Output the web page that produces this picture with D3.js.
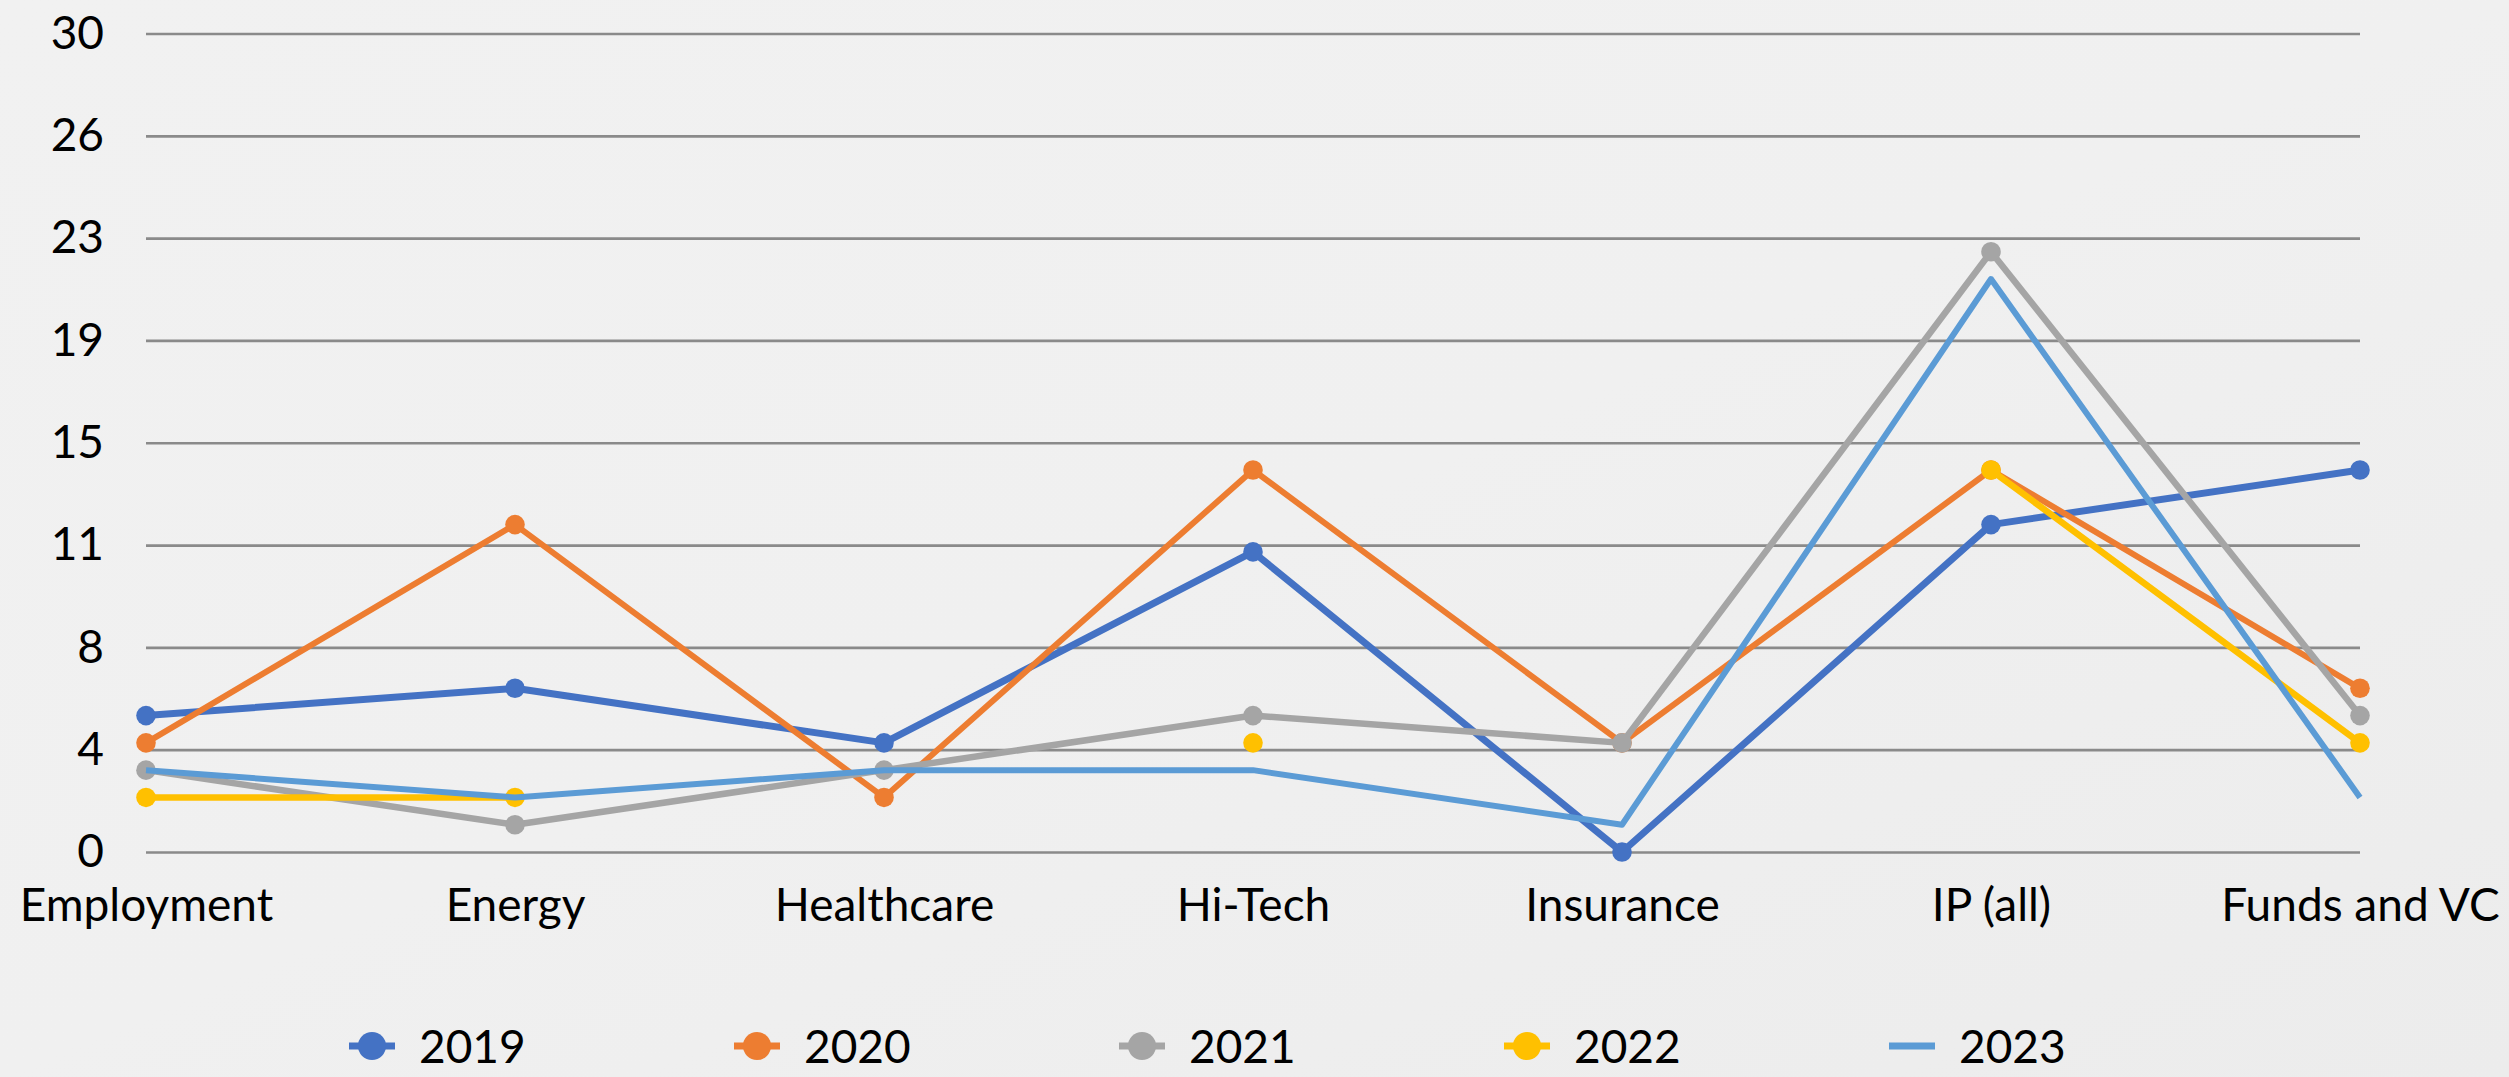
<html>
    <head>
        <meta charset="utf-8">
        <style>
            body { margin: 0; background: #efefef; }
            svg { display: block; font-family: Lato, "Open Sans", sans-serif; }
        </style>
    </head>
    <body>
        <svg width="2509" height="1077"></svg>
        <script src="https://cdn.jsdelivr.net/npm/d3@7/dist/d3.min.js"></script>
        <script>
            // chart data
            const categories = ['Employment', 'Energy', 'Healthcare', 'Hi-Tech', 'Insurance', 'IP (all)', 'Funds and VC'];
            const years = ['2019', '2020', '2021', '2022', '2023'];
            const v2019 = [5, 6, 4, 11, 0, 12, 14];
            const v2020 = [4, 12, 2, 14, 4, 14, 6];
            const v2021 = [3, 1, 3, 5, 4, 22, 5];
            const v2022 = [2, 2, null, 4, null, 14, 4];
            const v2023 = [3, 2, 3, 3, 1, 21, 2];
            const yTicks = [0, 3.75, 7.5, 11.25, 15, 18.75, 22.5, 26.25, 30];
            const yTickLabels = ['0', '4', '8', '11', '15', '19', '23', '26', '30'];

            const series = [
                { name: years[0], values: v2019, color: '#4472C4', markers: true, w: 7 },
                { name: years[1], values: v2020, color: '#ED7D31', markers: true, w: 6 },
                { name: years[2], values: v2021, color: '#A5A5A5', markers: true, w: 6.5 },
                { name: years[3], values: v2022, color: '#FFC000', markers: true, w: 6.5 },
                { name: years[4], values: v2023, color: '#5B9BD5', markers: false, w: 6 }
            ];

            const svg = d3.select('svg');
            const width = +svg.attr('width');
            const height = +svg.attr('height');

            // faint background shading like the slide texture
            const defs = svg.append('defs');
            const grad = defs.append('linearGradient').attr('id', 'bg').attr('x1', 0).attr('x2', 1).attr('y1', 0).attr('y2', 1);
            grad.append('stop').attr('offset', '0%').attr('stop-color', '#f1f1f1');
            grad.append('stop').attr('offset', '50%').attr('stop-color', '#f0f0f0');
            grad.append('stop').attr('offset', '100%').attr('stop-color', '#ececec');
            svg.append('rect').attr('width', width).attr('height', height).attr('fill', 'url(#bg)');

            const plotLeft = 146, plotRight = 2360, plotTop = 33.5, plotBottom = 852;

            const x = d3.scalePoint().domain(categories).range([plotLeft, plotRight]).padding(0);
            const y = d3.scaleLinear().domain([0, 30]).range([plotBottom, plotTop]);

            // gridlines + y labels
            const yAxis = d3.axisLeft(y)
                .tickValues(yTicks)
                .tickFormat((d, i) => yTickLabels[i])
                .tickSize(-(plotRight - plotLeft))
                .tickPadding(42);

            const gy = svg.append('g')
                .attr('transform', `translate(${plotLeft},0)`)
                .call(yAxis);
            gy.select('.domain').remove();
            gy.selectAll('.tick line').attr('stroke', '#8a8a8a').attr('stroke-width', 2.7);
            gy.selectAll('.tick text')
                .attr('fill', '#000')
                .style('font-size', '46px')
                .style('font-family', 'Lato, sans-serif');

            // category labels
            const gx = svg.append('g')
                .attr('transform', `translate(0,${plotBottom})`)
                .call(d3.axisBottom(x).tickSize(0).tickPadding(36));
            gx.select('.domain').remove();
            gx.selectAll('.tick text')
                .attr('fill', '#000')
                .style('font-size', '46px')
                .style('font-family', 'Lato, sans-serif');

            const line = d3.line()
                .defined(d => d != null)
                .x((d, i) => x(categories[i]))
                .y(d => y(d));

            series.forEach(s => {
                const g = svg.append('g');
                g.append('path')
                    .attr('d', line(s.values))
                    .attr('fill', 'none')
                    .attr('stroke', s.color)
                    .attr('stroke-width', s.w)
                    .attr('stroke-linejoin', 'round');

                if (s.markers) {
                    g.selectAll('circle')
                        .data(s.values.map((v, i) => ({ v, c: categories[i] })).filter(d => d.v != null))
                        .enter().append('circle')
                        .attr('cx', d => x(d.c))
                        .attr('cy', d => y(d.v))
                        .attr('r', 9.8)
                        .attr('fill', s.color);
                }
            });

            // legend
            const legendY = 1046;
            const legend = svg.append('g');
            const item = legend.selectAll('g')
                .data(series)
                .enter().append('g')
                .attr('transform', (d, i) => `translate(${372 + i * 385},${legendY})`);

            item.append('line')
                .attr('x1', -23).attr('x2', 23)
                .attr('stroke', d => d.color)
                .attr('stroke-width', 7);

            item.filter(d => d.markers).append('circle')
                .attr('r', 14)
                .attr('fill', d => d.color);

            item.append('text')
                .attr('x', 47)
                .attr('y', 17)
                .attr('fill', '#000')
                .style('font-size', '46px')
                .text(d => d.name);
        </script>
    </body>
</html>
